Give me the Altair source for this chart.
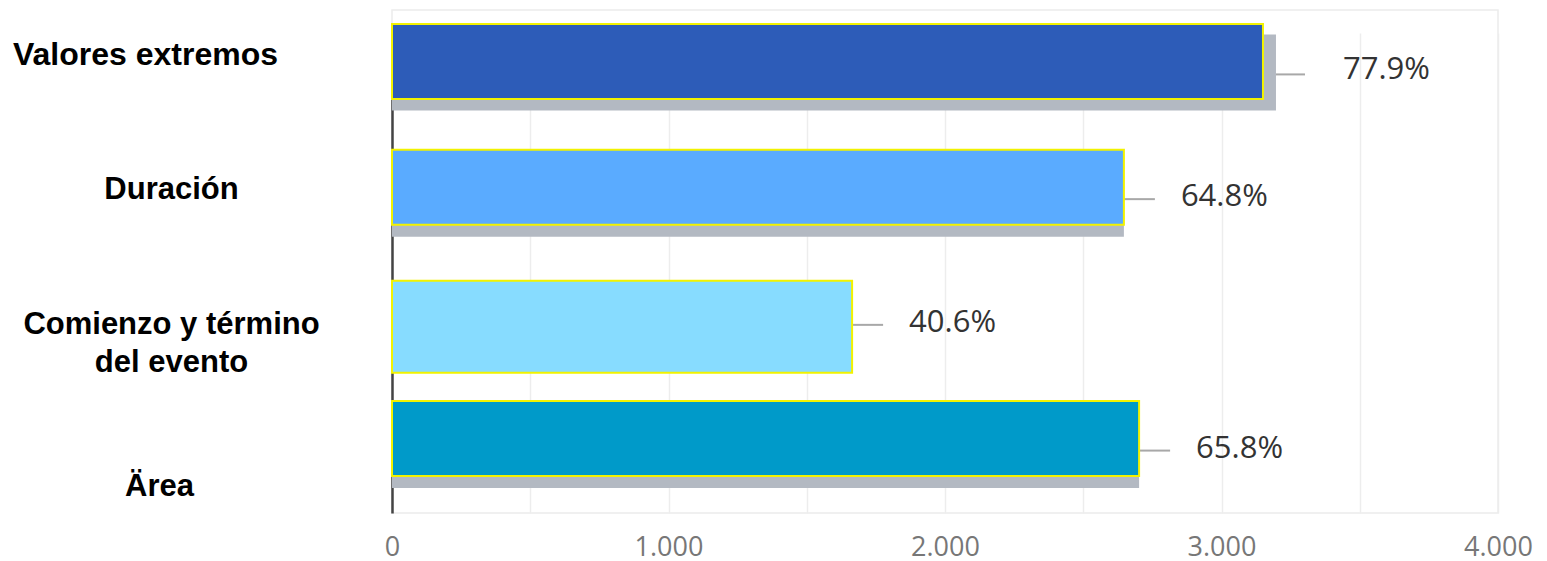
import altair as alt
import pandas as pd

categories = ["Valores extremos", "Duración", "Comienzo y término del evento", "Ärea"]
values = [3150, 2647, 1664, 2702]
percent_labels = ["77.9%", "64.8%", "40.6%", "65.8%"]
bar_colors = ["#2d5cb8", "#5aabff", "#87dcff", "#009ac9"]
x_ticks = [0, 500, 1000, 1500, 2000, 2500, 3000, 3500, 4000]

df = pd.DataFrame({"cat": categories, "value": values, "pct": percent_labels})

tall = "Comienzo y término del evento"
first = "Valores extremos"

y_axis = alt.Axis(
    title=None,
    domain=False,
    ticks=False,
    tickSize=0,
    grid=False,
    labelFont="Liberation Sans",
    labelFontWeight="bold",
    labelFontSize={
        "condition": {"test": "datum.value == 'Valores extremos'", "value": 32},
        "value": 31,
    },
    labelColor="#000000",
    labelAlign="center",
    labelBaseline="middle",
    labelLineHeight=38,
    labelLimit=0,
    labelExpr="datum.value == '" + tall + "' ? ['Comienzo y término', 'del evento'] : datum.label",
    labelPadding={
        "condition": [
            {"test": "datum.value == 'Valores extremos'", "value": 247},
            {"test": "datum.value == 'Ärea'", "value": 233},
        ],
        "value": 221,
    },
    labelOffset={
        "condition": [
            {"test": "datum.value == 'Valores extremos'", "value": -6},
            {"test": "datum.value == '" + tall + "'", "value": 12},
            {"test": "datum.value == 'Ärea'", "value": 48},
        ],
        "value": 3,
    },
)

x_axis = alt.Axis(
    values=x_ticks,
    title=None,
    domain=False,
    ticks=False,
    labelPadding=21,
    labelFont="Open Sans",
    labelFontSize=27,
    labelColor="#777777",
    labelFlush=False,
    labelOverlap=False,
    labelExpr="datum.value % 1000 == 0 ? replace(format(datum.value, ','), ',', '.') : ''",
    gridColor={"condition": {"test": "datum.value === 0", "value": "#444444"}, "value": "#ededed"},
    gridWidth={"condition": {"test": "datum.value === 0", "value": 2.5}, "value": 1.5},
)

x_enc = alt.X("value:Q", scale=alt.Scale(domain=[0, 4000], nice=False), axis=x_axis)
y_enc = alt.Y(
    "cat:N",
    sort=categories,
    scale=alt.Scale(range=[0, 480], paddingInner=0.41, paddingOuter=0.114),
    axis=y_axis,
)
color_enc = alt.Color("cat:N", scale=alt.Scale(domain=categories, range=bar_colors), legend=None)

base = alt.Chart(df)
first_only = base.transform_filter(alt.datum.cat == first)
others = base.transform_filter(alt.datum.cat != first)
tall_only = base.transform_filter(alt.datum.cat == tall)
regular = base.transform_filter(alt.datum.cat != tall)

shadow_first = first_only.mark_bar(color="#b3b9c2", xOffset=13, x2Offset=0, yOffset=11).encode(
    x=x_enc, x2=alt.datum(0), y=y_enc, size=alt.value(76),
)
shadow_rest = others.mark_bar(color="#b3b9c2", yOffset=12).encode(
    x=x_enc,
    y=y_enc,
    size=alt.value(75),
    opacity=alt.condition(alt.datum.cat == tall, alt.value(0), alt.value(1)),
)

leader_first = first_only.mark_rule(
    color="#a8a8a8", strokeWidth=2, xOffset=13, x2Offset=42, yOffset=13
).encode(x=x_enc, x2="value:Q", y=y_enc)
leader_rest = others.mark_rule(
    color="#a8a8a8", strokeWidth=2, x2Offset=31, yOffset=12
).encode(x=x_enc, x2="value:Q", y=y_enc)

bars = regular.mark_bar(stroke="#f2f200", strokeWidth=2).encode(
    x=x_enc, y=y_enc, color=color_enc, size=alt.value(75),
)
bar_tall = tall_only.mark_bar(stroke="#f2f200", strokeWidth=2, yOffset=14).encode(
    x=x_enc, y=y_enc, color=color_enc, size=alt.value(92),
)

text_first = first_only.mark_text(
    align="left", baseline="middle", dx=80, dy=9,
    font="Open Sans", fontSize=31, color="#333333",
).encode(x=x_enc, y=y_enc, text="pct:N")
text_rest = others.mark_text(
    align="left", baseline="middle", dx=57, dy=10,
    font="Open Sans", fontSize=31, color="#333333",
).encode(x=x_enc, y=y_enc, text="pct:N")

chart = alt.layer(
    shadow_first, shadow_rest, leader_first, leader_rest, bars, bar_tall, text_first, text_rest
).properties(
    width=1106,
    height=503,
    autosize=alt.AutoSizeParams(type="none"),
    padding={"left": 384, "top": 2, "right": 40, "bottom": 60},
    background="#ffffff",
).configure_view(stroke="#ececec", strokeWidth=1.5)

chart.save("out.html", embed_options={"renderer": "svg", "actions": False})
